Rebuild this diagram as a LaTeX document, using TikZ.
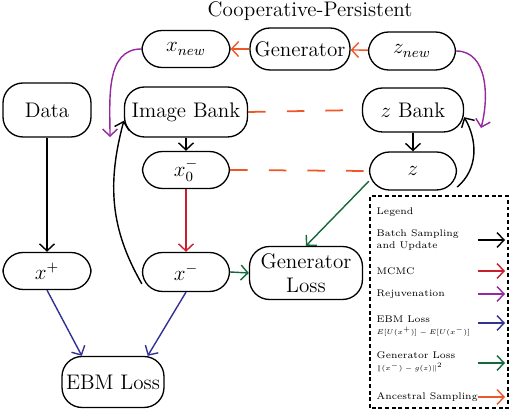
\documentclass[tikz,border=0pt]{standalone}
\usepackage{amsmath,amssymb}
\usepackage{xcolor}
\usepackage{graphicx}
\usetikzlibrary{arrows.meta}
\definecolor{ancestral}{RGB}{238,88,40}
\definecolor{mcmc}{RGB}{200,30,45}
\definecolor{rejuv}{RGB}{150,40,160}
\definecolor{ebmblue}{RGB}{50,50,150}
\definecolor{genloss}{RGB}{20,105,60}
\newcommand{\legmath}[1]{\scalebox{0.78}{$#1$}}
\tikzset{
    >={Straight Barb[length=4pt,width=8.5pt]},
    blk/.style={draw, line width=0.75pt, rounded corners=0.4cm, font=\large, inner sep=2pt, align=center},
    legtext/.style={anchor=west, font=\fontsize{5.5}{7}\selectfont, align=left, inner sep=0pt},
    bankline/.style={ancestral, line width=1pt, dash pattern=on 10pt off 12pt},
}
\begin{document}
\begin{tikzpicture}[x=0.02cm, y=0.02cm, line width=0.8pt]
    \useasboundingbox (0,0) rectangle (512,412);
    \node[font=\large] (title) at (310,401) {Cooperative-Persistent};
    % top row
    \node[blk, minimum width=1.76cm, minimum height=0.74cm] (xnew) at (186,363) {$x_{new}$};
    \node[blk, minimum width=2cm, minimum height=0.84cm] (gen) at (300,363) {Generator};
    \node[blk, minimum width=1.74cm, minimum height=0.76cm] (znew) at (412,361) {$z_{new}$};
    % banks
    \node[blk, minimum width=1.76cm, minimum height=1.08cm] (data) at (47,302) {Data};
    \node[blk, minimum width=2.46cm, minimum height=1cm] (imgbank) at (186,300) {Image Bank};
    \node[blk, minimum width=2.02cm, minimum height=0.88cm] (zbank) at (413,302) {$z$ Bank};
    \node[blk, minimum width=1.74cm, minimum height=0.74cm] (xzero) at (186,242) {$x_0^-$};
    \node[blk, minimum width=1.74cm, minimum height=0.76cm] (z) at (413,241) {$z$};
    % samples and losses
    \node[blk, minimum width=1.76cm, minimum height=0.74cm] (xplus) at (47,141) {$x^+$};
    \node[blk, minimum width=1.74cm, minimum height=0.78cm] (xminus) at (186,140) {$x^-$};
    \node[blk, minimum width=2.26cm, minimum height=1.06cm] (glossnode) at (306,139) {Generator\\Loss};
    \node[blk, minimum width=2.04cm, minimum height=1.02cm] (ebm) at (113,30) {EBM Loss};
    \coordinate (rejx) at (110,275);
    \coordinate (rejz) at (481,284);

    % ancestral sampling
    \draw[->, ancestral] (znew) -- (gen);
    \draw[->, ancestral] (gen) -- (xnew);
    % rejuvenation
    \draw[->, rejuv] (xnew.west) to[out=180, in=90] (rejx);
    \draw[->, rejuv] (znew.east) to[out=0, in=75] (rejz);
    % batch sampling and update
    \draw[->] (data) -- (xplus);
    \draw[->] (imgbank) -- (xzero);
    \draw[->] (zbank) -- (z);
    \draw[->] (xminus.195) to[out=120, in=-105] (imgbank.188);
    \draw[->] (z.-20) to[out=40, in=-60] (zbank.-8);
    % paired banks
    \draw[bankline] (imgbank.east) -- (zbank.west);
    \draw[bankline] (xzero.east) -- (z.west);
    % MCMC
    \draw[->, mcmc] (xzero) -- (xminus);
    % generator loss
    \draw[->, genloss] (z.193) -- (glossnode.north);
    \draw[->, genloss] (xminus.east) -- (glossnode.west);
    % EBM loss
    \draw[->, ebmblue] (xplus.south) -- (ebm.140);
    \draw[->, ebmblue] (xminus.south) -- (ebm.37);

    % Legend
    \draw[line width=1.2pt, dash pattern=on 2.2pt off 1.6pt] (370,4) rectangle (508,216);
    \node[legtext] (leg) at (376,200) {Legend};
    \node[legtext] (lbatch) at (376,172) {Batch Sampling\\and Update};
    \node[legtext] (lmcmc) at (376,141) {MCMC};
    \node[legtext] (lrej) at (376,118) {Rejuvenation};
    \node[legtext] (lebm) at (376,86) {EBM Loss\\\legmath{E[U(x^+)]-E[U(x^-)]}};
    \node[legtext] (lgen) at (376,50) {Generator Loss\\\legmath{\|(x^-)-g(z)\|^2}};
    \node[legtext] (lanc) at (376,15) {Ancestral Sampling};
    \draw[->] (478,172) -- (505,172);
    \draw[->, mcmc] (478,141) -- (505,141);
    \draw[->, rejuv] (478,118) -- (505,118);
    \draw[->, ebmblue] (478,89) -- (505,89);
    \draw[->, genloss] (478,49) -- (505,49);
    \draw[->, ancestral] (478,15) -- (505,15);
\end{tikzpicture}
\end{document}
